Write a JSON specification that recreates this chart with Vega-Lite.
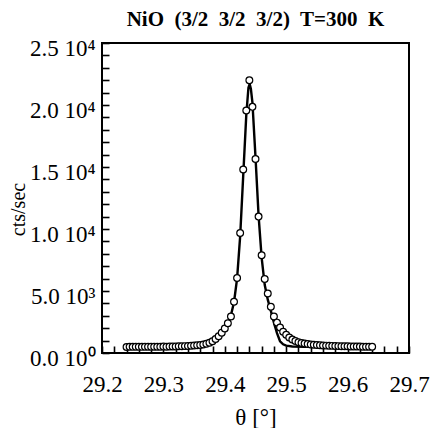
{
  "$schema": "https://vega.github.io/schema/vega-lite/v6.json",
  "width": 307,
  "height": 310,
  "autosize": {"type": "none"},
  "padding": {"left": 102, "top": 43, "right": 22, "bottom": 75},
  "background": "white",
  "title": {
    "text": "NiO\u00a0 (3/2\u00a0 3/2\u00a0 3/2)\u00a0 T=300\u00a0 K",
    "font": "Liberation Serif",
    "fontSize": 21,
    "fontWeight": "bold",
    "color": "black",
    "anchor": "middle",
    "frame": "group",
    "baseline": "alphabetic",
    "offset": -10
  },
  "config": {
    "view": {"stroke": "black", "strokeWidth": 2}
  },
  "datasets": {
    "points": [
      {"theta": 29.240, "cps": 490}, {"theta": 29.245, "cps": 500}, {"theta": 29.250, "cps": 495},
      {"theta": 29.255, "cps": 500}, {"theta": 29.260, "cps": 505}, {"theta": 29.265, "cps": 495},
      {"theta": 29.270, "cps": 500}, {"theta": 29.275, "cps": 505}, {"theta": 29.280, "cps": 500},
      {"theta": 29.285, "cps": 510}, {"theta": 29.290, "cps": 505}, {"theta": 29.295, "cps": 510},
      {"theta": 29.300, "cps": 515}, {"theta": 29.305, "cps": 510}, {"theta": 29.310, "cps": 520},
      {"theta": 29.315, "cps": 525}, {"theta": 29.320, "cps": 530}, {"theta": 29.325, "cps": 540},
      {"theta": 29.330, "cps": 545}, {"theta": 29.335, "cps": 555}, {"theta": 29.340, "cps": 570},
      {"theta": 29.345, "cps": 585}, {"theta": 29.350, "cps": 600}, {"theta": 29.355, "cps": 625},
      {"theta": 29.360, "cps": 650}, {"theta": 29.365, "cps": 690}, {"theta": 29.370, "cps": 740},
      {"theta": 29.375, "cps": 820}, {"theta": 29.380, "cps": 950}, {"theta": 29.385, "cps": 1130},
      {"theta": 29.390, "cps": 1350}, {"theta": 29.395, "cps": 1640}, {"theta": 29.400, "cps": 1980},
      {"theta": 29.405, "cps": 2400}, {"theta": 29.410, "cps": 2950}, {"theta": 29.415, "cps": 4130},
      {"theta": 29.420, "cps": 6050}, {"theta": 29.425, "cps": 9680}, {"theta": 29.430, "cps": 14800},
      {"theta": 29.435, "cps": 19550}, {"theta": 29.440, "cps": 22000}, {"theta": 29.445, "cps": 19850},
      {"theta": 29.450, "cps": 15650}, {"theta": 29.455, "cps": 11000}, {"theta": 29.460, "cps": 7880},
      {"theta": 29.465, "cps": 5970}, {"theta": 29.470, "cps": 4800}, {"theta": 29.475, "cps": 3730},
      {"theta": 29.480, "cps": 2950}, {"theta": 29.485, "cps": 2450}, {"theta": 29.490, "cps": 2060},
      {"theta": 29.495, "cps": 1720}, {"theta": 29.500, "cps": 1470}, {"theta": 29.505, "cps": 1250},
      {"theta": 29.510, "cps": 1080}, {"theta": 29.515, "cps": 960}, {"theta": 29.520, "cps": 870},
      {"theta": 29.525, "cps": 810}, {"theta": 29.530, "cps": 760}, {"theta": 29.535, "cps": 720},
      {"theta": 29.540, "cps": 690}, {"theta": 29.545, "cps": 665}, {"theta": 29.550, "cps": 645},
      {"theta": 29.555, "cps": 625}, {"theta": 29.560, "cps": 610}, {"theta": 29.565, "cps": 595},
      {"theta": 29.570, "cps": 585}, {"theta": 29.575, "cps": 575}, {"theta": 29.580, "cps": 565},
      {"theta": 29.585, "cps": 555}, {"theta": 29.590, "cps": 550}, {"theta": 29.595, "cps": 545},
      {"theta": 29.600, "cps": 540}, {"theta": 29.605, "cps": 530}, {"theta": 29.610, "cps": 525},
      {"theta": 29.615, "cps": 520}, {"theta": 29.620, "cps": 515}, {"theta": 29.625, "cps": 510},
      {"theta": 29.630, "cps": 505}, {"theta": 29.635, "cps": 500}, {"theta": 29.640, "cps": 500}
    ],
    "fit": [
      {"theta": 29.24, "cps": 470}, {"theta": 29.26, "cps": 475}, {"theta": 29.28, "cps": 480},
      {"theta": 29.30, "cps": 490}, {"theta": 29.32, "cps": 510}, {"theta": 29.34, "cps": 550},
      {"theta": 29.35, "cps": 590}, {"theta": 29.36, "cps": 650}, {"theta": 29.37, "cps": 750},
      {"theta": 29.375, "cps": 830}, {"theta": 29.38, "cps": 950}, {"theta": 29.385, "cps": 1120},
      {"theta": 29.39, "cps": 1330}, {"theta": 29.395, "cps": 1600}, {"theta": 29.40, "cps": 1950},
      {"theta": 29.405, "cps": 2400}, {"theta": 29.41, "cps": 3050}, {"theta": 29.415, "cps": 4100},
      {"theta": 29.42, "cps": 6000}, {"theta": 29.425, "cps": 9400}, {"theta": 29.43, "cps": 14300},
      {"theta": 29.435, "cps": 19200}, {"theta": 29.4385, "cps": 21400}, {"theta": 29.4405, "cps": 21700},
      {"theta": 29.4425, "cps": 21300}, {"theta": 29.445, "cps": 20200}, {"theta": 29.45, "cps": 15800},
      {"theta": 29.455, "cps": 11100}, {"theta": 29.46, "cps": 7700}, {"theta": 29.465, "cps": 5500},
      {"theta": 29.47, "cps": 4300}, {"theta": 29.475, "cps": 3400}, {"theta": 29.48, "cps": 2450},
      {"theta": 29.485, "cps": 1600}, {"theta": 29.49, "cps": 950}, {"theta": 29.495, "cps": 700},
      {"theta": 29.50, "cps": 590}, {"theta": 29.51, "cps": 530}, {"theta": 29.53, "cps": 500},
      {"theta": 29.56, "cps": 490}, {"theta": 29.60, "cps": 480}, {"theta": 29.64, "cps": 475}
    ]
  },
  "encoding": {
    "x": {
      "field": "theta",
      "type": "quantitative",
      "scale": {"domain": [29.2, 29.7], "nice": false, "zero": false},
      "axis": {
        "offset": -7,
        "domain": false,
        "grid": false,
        "ticks": true,
        "tickColor": "black",
        "tickWidth": 1.6,
        "tickSize": 7,
        "labelFont": "Liberation Serif",
        "labelFontSize": 23,
        "labelColor": "black",
        "labelFlush": false,
        "labelOverlap": false,
        "labelBound": false,
        "labelPadding": 20,
        "title": "θ [°]",
        "titleFont": "Liberation Serif",
        "titleFontWeight": "normal",
        "titleColor": "black",
        "titleFontSize": 23,
        "titlePadding": 10,
        "values": [29.2, 29.22, 29.24, 29.26, 29.28, 29.3, 29.32, 29.34, 29.36, 29.38, 29.4, 29.42, 29.44, 29.46, 29.48, 29.5, 29.52, 29.54, 29.56, 29.58, 29.6, 29.62, 29.64, 29.66, 29.68, 29.7],
        "labelExpr": "abs(datum.value * 10 - round(datum.value * 10)) < 0.001 ? format(datum.value, '.1f') : ''"
      }
    },
    "y": {
      "field": "cps",
      "type": "quantitative",
      "scale": {"domain": [0, 25000], "nice": false, "zero": true},
      "axis": {
        "offset": -7,
        "domain": false,
        "grid": false,
        "ticks": true,
        "tickColor": "black",
        "tickWidth": 1.6,
        "tickSize": 7,
        "labelFont": "Liberation Serif",
        "labelFontSize": 23,
        "labelColor": "black",
        "labelFlush": false,
        "labelOverlap": false,
        "labelBound": false,
        "labelPadding": 7,
        "labelOffset": 5,
        "title": "cts/sec",
        "titleFont": "Liberation Serif",
        "titleFontWeight": "normal",
        "titleColor": "black",
        "titleFontSize": 20,
        "titleAngle": -90,
        "titleX": -91,
        "titleY": 166,
        "titleAlign": "center",
        "titleBaseline": "middle",
        "values": [0, 1000, 2000, 3000, 4000, 5000, 6000, 7000, 8000, 9000, 10000, 11000, 12000, 13000, 14000, 15000, 16000, 17000, 18000, 19000, 20000, 21000, 22000, 23000, 24000, 25000],
        "labelExpr": "datum.value == 0 ? '0.0 10⁰' : datum.value == 5000 ? '5.0 10³' : datum.value % 5000 == 0 ? format(datum.value / 10000, '.1f') + ' 10⁴' : ''"
      }
    }
  },
  "layer": [
    {
      "data": {"name": "fit"},
      "mark": {"type": "line", "color": "black", "strokeWidth": 2.4, "clip": true}
    },
    {
      "data": {"name": "points"},
      "mark": {"type": "point", "shape": "circle", "filled": true, "fill": "white", "stroke": "black", "strokeWidth": 1.2, "size": 46, "opacity": 1}
    }
  ]
}
